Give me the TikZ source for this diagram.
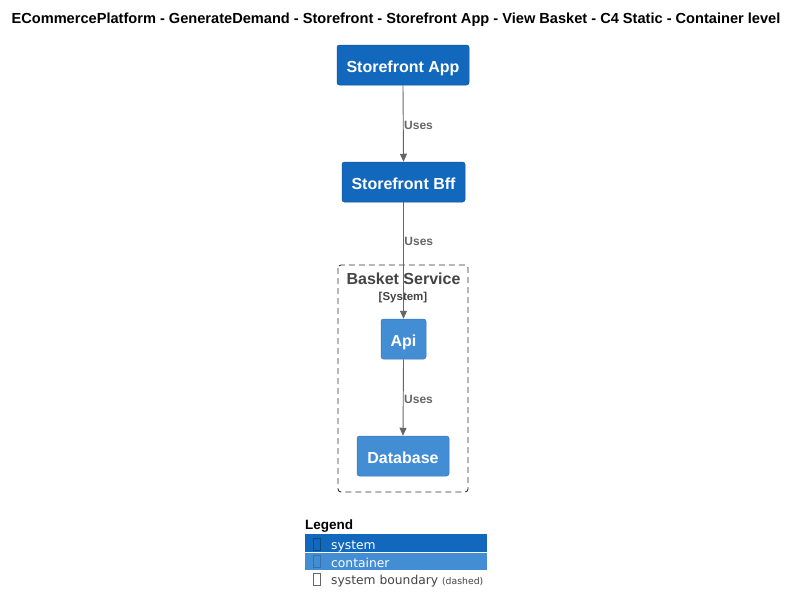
\documentclass[tikz,border=0pt]{standalone}
\usepackage{fontspec}
\setmainfont{Liberation Sans}
\newfontfamily\legfont{DejaVu Sans}
\usetikzlibrary{arrows.meta}
\definecolor{sysblue}{HTML}{1168BD}
\definecolor{conblue}{HTML}{438DD5}
\definecolor{arrgrey}{HTML}{666666}
\definecolor{bndgrey}{HTML}{444444}
\begin{document}
\begin{tikzpicture}[x=1pt,y=-1pt,
  sysbox/.style={draw=sysblue!80!black,line width=0.5pt,fill=sysblue,rounded corners=2.5pt,text=white,font=\fontsize{16}{18}\selectfont\bfseries,inner sep=0pt,text depth=0pt,text height=14pt},
  conbox/.style={draw=conblue!85!black,line width=0.5pt,fill=conblue,rounded corners=2.5pt,text=white,font=\fontsize{16}{18}\selectfont\bfseries,inner sep=0pt,text depth=0pt,text height=14pt},
  uses/.style={draw=arrgrey,line width=0.9pt,-{Triangle[length=8pt,width=7pt]}},
  lbl/.style={text=arrgrey,font=\fontsize{12}{14}\selectfont\bfseries,anchor=west,inner sep=0pt}]
\useasboundingbox (0,0) rectangle (799,613);
\fill[white] (0,0) rectangle (799,613);
\node[font=\fontsize{14.6}{16}\selectfont\bfseries] (title) at (396,19.5) {ECommercePlatform - GenerateDemand - Storefront - Storefront App - View Basket - C4 Static - Container level};
% boundary
\draw[black!80,dash pattern=on 6pt off 4pt,line width=0.9pt,rounded corners=3pt] (338,265) rectangle (468,492);
\node[text=bndgrey,font=\fontsize{16}{18}\selectfont\bfseries] (bname) at (403.5,279) {Basket Service};
\node[text=bndgrey,font=\fontsize{11.5}{13}\selectfont\bfseries] (btype) at (403,297.5) {[System]};
% nodes
\node[sysbox,minimum width=132pt,minimum height=40pt] (app) at (403,65) {Storefront App};
\node[sysbox,minimum width=123pt,minimum height=40pt] (bff) at (403.5,182) {Storefront Bff};
\node[conbox,minimum width=45pt,minimum height=40pt] (api) at (403.5,339) {Api};
\node[conbox,minimum width=92pt,minimum height=40pt] (db) at (403,456) {Database};
% connectors
\draw[uses] (app.south) -- (bff.north) node[lbl,pos=0.52,xshift=0.5pt] {Uses};
\draw[uses] (bff.south) -- (api.north) node[lbl,pos=0.335,xshift=0.5pt] {Uses};
\draw[uses] (api.south) -- (db.north) node[lbl,pos=0.52,xshift=0.5pt] {Uses};
% legend
\node[anchor=west,inner sep=0pt,font=\fontsize{13.5}{15}\selectfont\bfseries] (leg) at (305,526.5) {Legend};
\fill[sysblue] (305,534) rectangle (487,552);
\fill[conblue] (305,552.7) rectangle (487,569.5);
\draw[sysblue!70!black,line width=0.5pt] (313,538) rectangle (320,550);
\draw[conblue!80!black,line width=0.5pt] (313,555) rectangle (320,567);
\draw[black!60,line width=0.6pt] (313,573) rectangle (320,585);
\node[anchor=west,inner sep=0pt,text=white,font=\legfont\fontsize{12.3}{14}\selectfont] (l1) at (331,546) {system};
\node[anchor=west,inner sep=0pt,text=white,font=\legfont\fontsize{12.3}{14}\selectfont] (l2) at (331,563) {container};
\node[anchor=west,inner sep=0pt,text=bndgrey,font=\legfont\fontsize{12.3}{14}\selectfont] (l3) at (331,581) {system boundary {\fontsize{9.3}{10}\selectfont (dashed)}};
\end{tikzpicture}
\end{document}
